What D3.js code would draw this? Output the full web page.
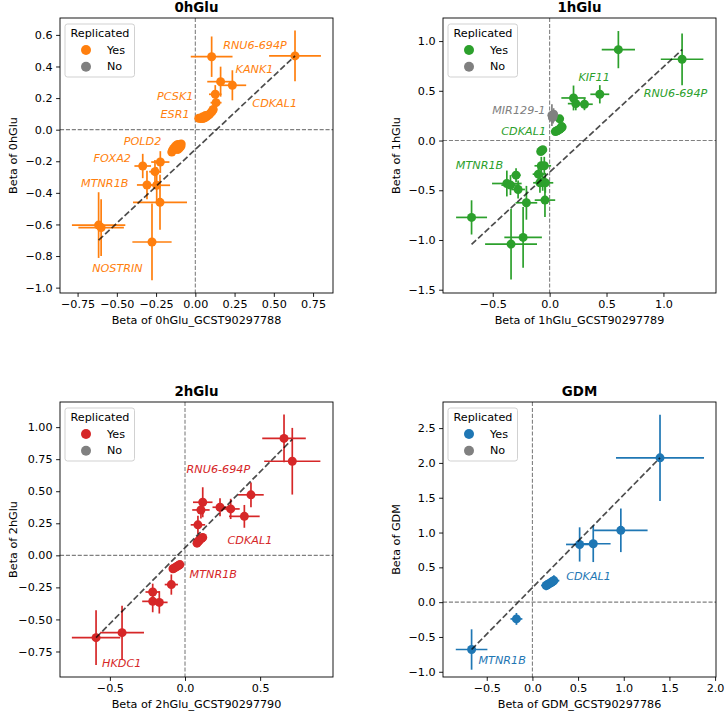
<!DOCTYPE html>
<html><head><meta charset="utf-8">
<script src="https://cdn.jsdelivr.net/npm/d3@7"></script>
<style>body{margin:0;background:#fff} svg{display:block} text{font-family:"DejaVu Sans",sans-serif}</style>
</head><body><svg id="c" width="726" height="712"></svg>
<script>
// ---------- DATA ----------
// points: [beta_reference, beta_trait, xerr, yerr, replicated(1/0)]
const glu0Points = [
 [0.104,0.462,0.133,0.128,1],[0.635,0.467,0.165,0.161,1],[0.161,0.304,0.085,0.095,1],
 [0.236,0.281,0.088,0.095,1],[0.127,0.224,0.040,0.058,1],[0.132,0.171,0.035,0.037,1],
 [0.022,0.072,0.014,0.012,1],[0.035,0.070,0.014,0.012,1],[0.048,0.071,0.014,0.012,1],
 [0.060,0.075,0.014,0.013,1],[0.070,0.082,0.015,0.013,1],[0.080,0.090,0.015,0.014,1],
 [0.090,0.098,0.015,0.014,1],[0.100,0.108,0.016,0.015,1],[0.108,0.118,0.016,0.015,1],
 [0.114,0.128,0.016,0.016,1],[0.045,0.080,0.014,0.012,1],[0.065,0.090,0.014,0.013,1],
 [-0.090,-0.090,0.012,0.012,1],[-0.098,-0.096,0.012,0.012,1],[-0.105,-0.100,0.012,0.012,1],
 [-0.112,-0.094,0.012,0.012,1],[-0.120,-0.100,0.012,0.012,1],[-0.128,-0.108,0.012,0.012,1],
 [-0.100,-0.115,0.012,0.012,1],[-0.110,-0.125,0.012,0.012,1],[-0.125,-0.125,0.012,0.012,1],
 [-0.138,-0.118,0.012,0.012,1],[-0.145,-0.130,0.012,0.012,1],[-0.150,-0.142,0.012,0.012,1],
 [-0.092,-0.105,0.012,0.012,1],[-0.118,-0.112,0.012,0.012,1],
 [-0.335,-0.230,0.053,0.077,1],[-0.223,-0.205,0.058,0.069,1],[-0.257,-0.266,0.037,0.074,1],
 [-0.308,-0.350,0.064,0.090,1],[-0.246,-0.352,0.085,0.116,1],[-0.225,-0.460,0.172,0.174,1],
 [-0.616,-0.604,0.170,0.208,1],[-0.600,-0.620,0.145,0.180,1],[-0.276,-0.711,0.125,0.243,1]
];
const glu0Labels = [
 ["RNU6-694P",0.380,0.536,1],["KANK1",0.377,0.378,1],["PCSK1",-0.128,0.209,1],
 ["CDKAL1",0.506,0.167,1],["ESR1",-0.129,0.099,1],["POLD2",-0.336,-0.076,1],
 ["FOXA2",-0.529,-0.184,1],["MTNR1B",-0.577,-0.339,1],["NOSTRIN",-0.496,-0.878,1]
];
const glu0Fit = [[-0.616,-0.700],[0.635,0.467]];
const glu0XTicks = [-0.75,-0.5,-0.25,0,0.25,0.5,0.75];
const glu0YTicks = [-1.0,-0.8,-0.6,-0.4,-0.2,0,0.2,0.4,0.6];

const glu1Points = [
 [0.604,0.914,0.146,0.187,1],[1.164,0.817,0.187,0.260,1],[0.441,0.465,0.083,0.092,1],
 [0.210,0.428,0.107,0.125,1],[0.230,0.371,0.070,0.067,1],[0.306,0.365,0.073,0.060,1],
 [0.088,0.218,0.030,0.040,1],
 [0.050,0.090,0.015,0.015,1],[0.060,0.095,0.015,0.015,1],[0.070,0.100,0.015,0.015,1],
 [0.080,0.108,0.015,0.015,1],[0.090,0.115,0.015,0.015,1],[0.100,0.125,0.015,0.015,1],
 [0.110,0.135,0.015,0.015,1],[0.105,0.140,0.015,0.015,1],
 [-0.078,-0.110,0.012,0.015,1],[-0.068,-0.100,0.012,0.015,1],[-0.060,-0.092,0.012,0.015,1],
 [-0.073,-0.254,0.060,0.090,1],[-0.047,-0.254,0.060,0.090,1],[-0.099,-0.338,0.050,0.070,1],
 [-0.061,-0.415,0.060,0.090,1],[-0.085,-0.425,0.060,0.100,1],[-0.038,-0.425,0.070,0.100,1],
 [-0.041,-0.599,0.090,0.170,1],[-0.295,-0.348,0.040,0.070,1],[-0.376,-0.432,0.130,0.130,1],
 [-0.344,-0.448,0.080,0.100,1],[-0.277,-0.492,0.060,0.090,1],[-0.204,-0.626,0.095,0.170,1],
 [-0.686,-0.773,0.136,0.172,1],[-0.339,-1.041,0.228,0.356,1],[-0.233,-0.974,0.165,0.306,1],
 [0.020,0.255,0.020,0.110,0],[0.030,0.240,0.020,0.070,0],[0.035,0.265,0.015,0.060,0],
 [0.025,0.230,0.015,0.050,0]
];
const glu1Labels = [
 ["KIF11",0.391,0.633,1],["RNU6-694P",1.106,0.472,1],["MIR129-1",-0.271,0.305,0],
 ["CDKAL1",-0.228,0.087,1],["MTNR1B",-0.616,-0.248,1]
];
const glu1Fit = [[-0.686,-1.044],[1.164,0.914]];
const glu1XTicks = [-0.5,0,0.5,1.0];
const glu1YTicks = [-1.5,-1.0,-0.5,0,0.5,1.0];

const glu2Points = [
 [0.659,0.912,0.145,0.186,1],[0.714,0.734,0.187,0.260,1],[0.439,0.472,0.085,0.096,1],
 [0.118,0.414,0.065,0.117,1],[0.106,0.354,0.058,0.066,1],[0.233,0.375,0.050,0.070,1],
 [0.304,0.362,0.060,0.079,1],[0.395,0.304,0.102,0.089,1],[0.086,0.238,0.048,0.071,1],
 [0.080,0.095,0.015,0.015,1],[0.085,0.105,0.015,0.015,1],[0.090,0.112,0.015,0.015,1],
 [0.097,0.120,0.015,0.015,1],[0.105,0.128,0.015,0.015,1],[0.112,0.135,0.015,0.015,1],
 [0.118,0.140,0.015,0.015,1],
 [-0.080,-0.105,0.012,0.012,1],[-0.072,-0.100,0.012,0.012,1],[-0.062,-0.092,0.012,0.012,1],
 [-0.052,-0.085,0.012,0.012,1],[-0.042,-0.078,0.012,0.012,1],[-0.034,-0.072,0.012,0.012,1],
 [-0.091,-0.228,0.044,0.079,1],[-0.215,-0.286,0.048,0.065,1],[-0.215,-0.359,0.070,0.085,1],
 [-0.171,-0.367,0.055,0.087,1],[-0.592,-0.642,0.161,0.213,1],[-0.419,-0.603,0.146,0.210,1]
];
const glu2Labels = [
 ["RNU6-694P",0.222,0.671,1],["CDKAL1",0.432,0.113,1],["MTNR1B",0.188,-0.149,1],["HKDC1",-0.421,-0.844,1]
];
const glu2Fit = [[-0.592,-0.642],[0.714,0.905]];
const glu2XTicks = [-0.5,0,0.5];
const glu2YTicks = [-0.75,-0.5,-0.25,0,0.25,0.5,0.75,1.0];

const gdmPoints = [
 [1.397,2.073,0.482,0.620,1],[0.968,1.032,0.293,0.313,1],[0.517,0.829,0.149,0.246,1],
 [0.666,0.839,0.190,0.263,1],
 [0.150,0.240,0.055,0.070,1],[0.165,0.250,0.055,0.070,1],[0.180,0.262,0.055,0.070,1],
 [0.195,0.275,0.055,0.070,1],[0.210,0.288,0.055,0.070,1],[0.225,0.300,0.060,0.070,1],
 [0.235,0.310,0.060,0.075,1],
 [-0.175,-0.241,0.065,0.085,1],[-0.666,-0.680,0.173,0.290,1]
];
const gdmLabels = [["CDKAL1",0.615,0.362,1],["MTNR1B",-0.331,-0.839,1]];
const gdmFit = [[-0.666,-0.680],[1.397,2.073]];
const gdmXTicks = [-0.5,0,0.5,1.0,1.5,2.0];
const gdmYTicks = [-1.0,-0.5,0,0.5,1.0,1.5,2.0,2.5];

const legendItems = ["Yes","No"];

// ---------- CHART ----------
const panels = [
 {title:"0hGlu", xLabel:"Beta of 0hGlu_GCST90297788", yLabel:"Beta of 0hGlu", color:"#ff7f0e",
  points:glu0Points, labels:glu0Labels, fit:glu0Fit, xTicks:glu0XTicks, yTicks:glu0YTicks,
  xDomain:[-0.862,0.877], yDomain:[-1.034,0.707], xFmt:".2f", yFmt:".1f", left:60, top:18},
 {title:"1hGlu", xLabel:"Beta of 1hGlu_GCST90297789", yLabel:"Beta of 1hGlu", color:"#2ca02c",
  points:glu1Points, labels:glu1Labels, fit:glu1Fit, xTicks:glu1XTicks, yTicks:glu1YTicks,
  xDomain:[-0.937,1.462], yDomain:[-1.533,1.232], xFmt:".1f", yFmt:".1f", left:443, top:18},
 {title:"2hGlu", xLabel:"Beta of 2hGlu_GCST90297790", yLabel:"Beta of 2hGlu", color:"#d62728",
  points:glu2Points, labels:glu2Labels, fit:glu2Fit, xTicks:glu2XTicks, yTicks:glu2YTicks,
  xDomain:[-0.832,0.985], yDomain:[-0.949,1.196], xFmt:".1f", yFmt:".2f", left:60, top:402},
 {title:"GDM", xLabel:"Beta of GDM_GCST90297786", yLabel:"Beta of GDM", color:"#1f77b4",
  points:gdmPoints, labels:gdmLabels, fit:gdmFit, xTicks:gdmXTicks, yTicks:gdmYTicks,
  xDomain:[-0.979,2.01], yDomain:[-1.075,2.875], xFmt:".1f", yFmt:".1f", left:443, top:402}
];
const W = 273, H = 275, GREY = "#808080", FS = 11.2;
const svg = d3.select("#c");
const fmtMinus = f => v => d3.format(f)(v).replace("-", "\u2212");

panels.forEach(p => {
  const g = svg.append("g").attr("transform", `translate(${p.left},${p.top})`);
  const x = d3.scaleLinear().domain(p.xDomain).range([0, W]);
  const y = d3.scaleLinear().domain(p.yDomain).range([H, 0]);
  const clipId = "clip-" + p.title;
  g.append("clipPath").attr("id", clipId).append("rect").attr("width", W).attr("height", H);
  const plot = g.append("g").attr("clip-path", `url(#${clipId})`);

  // zero reference lines
  plot.append("line").attr("x1", 0).attr("x2", W).attr("y1", y(0)).attr("y2", y(0))
    .attr("stroke", GREY).attr("stroke-width", 1.1).attr("stroke-dasharray", "4.1,1.8");
  plot.append("line").attr("y1", 0).attr("y2", H).attr("x1", x(0)).attr("x2", x(0))
    .attr("stroke", GREY).attr("stroke-width", 1.1).attr("stroke-dasharray", "4.1,1.8");

  // points with error bars (replicated first, non-replicated on top)
  const ordered = p.points.filter(d => d[4] === 1).concat(p.points.filter(d => d[4] === 0));
  ordered.forEach(d => {
    const c = d[4] ? p.color : GREY;
    const pg = plot.append("g");
    pg.append("line").attr("x1", x(d[0] - d[2])).attr("x2", x(d[0] + d[2]))
      .attr("y1", y(d[1])).attr("y2", y(d[1])).attr("stroke", c).attr("stroke-width", 1.7);
    pg.append("line").attr("x1", x(d[0])).attr("x2", x(d[0]))
      .attr("y1", y(d[1] - d[3])).attr("y2", y(d[1] + d[3])).attr("stroke", c).attr("stroke-width", 1.7);
    pg.append("circle").attr("cx", x(d[0])).attr("cy", y(d[1])).attr("r", 4.5).attr("fill", c);
  });

  // fit line
  plot.append("line").attr("x1", x(p.fit[0][0])).attr("y1", y(p.fit[0][1]))
    .attr("x2", x(p.fit[1][0])).attr("y2", y(p.fit[1][1]))
    .attr("stroke", "#000").attr("stroke-opacity", 0.7).attr("stroke-width", 1.7)
    .attr("stroke-dasharray", "6.2,2.7");

  // gene labels
  g.selectAll("text.lab").data(p.labels).join("text").attr("class", "lab")
    .attr("x", d => x(d[1])).attr("y", d => y(d[2]))
    .attr("text-anchor", "middle").attr("dominant-baseline", "central")
    .attr("font-style", "italic").attr("font-size", FS)
    .attr("fill", d => d[3] ? p.color : GREY).text(d => d[0]);

  // axes
  const xa = g.append("g").attr("transform", `translate(0,${H})`)
    .call(d3.axisBottom(x).tickValues(p.xTicks).tickFormat(fmtMinus(p.xFmt)).tickSize(3.9).tickPadding(3.5));
  const ya = g.append("g")
    .call(d3.axisLeft(y).tickValues(p.yTicks).tickFormat(fmtMinus(p.yFmt)).tickSize(3.9).tickPadding(3.5));
  [xa, ya].forEach(a => {
    a.select(".domain").remove();
    a.attr("font-family", "DejaVu Sans").attr("font-size", FS);
    a.selectAll("line").attr("stroke", "#000").attr("stroke-width", 0.9);
    a.selectAll("text").attr("fill", "#000");
  });
  g.append("rect").attr("width", W).attr("height", H).attr("fill", "none")
    .attr("stroke", "#000").attr("stroke-width", 0.9);

  // titles & axis labels
  g.append("text").attr("x", W / 2).attr("y", -11).attr("text-anchor", "middle")
    .attr("dominant-baseline", "central").attr("font-weight", "bold").attr("font-size", 13.4).text(p.title);
  g.append("text").attr("x", W / 2).attr("y", H + 27.7).attr("text-anchor", "middle")
    .attr("dominant-baseline", "central").attr("font-size", FS).text(p.xLabel);
  g.append("text").attr("transform", `translate(-47,${H / 2}) rotate(-90)`).attr("text-anchor", "middle")
    .attr("dominant-baseline", "central").attr("font-size", FS).text(p.yLabel);

  // legend
  const lg = g.append("g").attr("transform", "translate(5,6)");
  lg.append("rect").attr("width", 69.5).attr("height", 53).attr("rx", 2.5)
    .attr("fill", "#fff").attr("fill-opacity", 0.8).attr("stroke", "#ccc").attr("stroke-width", 0.9);
  lg.append("text").attr("x", 35).attr("y", 9.5).attr("text-anchor", "middle")
    .attr("dominant-baseline", "central").attr("font-size", FS).text("Replicated");
  legendItems.forEach((t, i) => {
    const yy = 26 + i * 16.8;
    lg.append("circle").attr("cx", 21).attr("cy", yy).attr("r", 5).attr("fill", i === 0 ? p.color : GREY);
    lg.append("text").attr("x", 42).attr("y", yy).attr("dominant-baseline", "central")
      .attr("font-size", FS).text(t);
  });
});
</script></body></html>
